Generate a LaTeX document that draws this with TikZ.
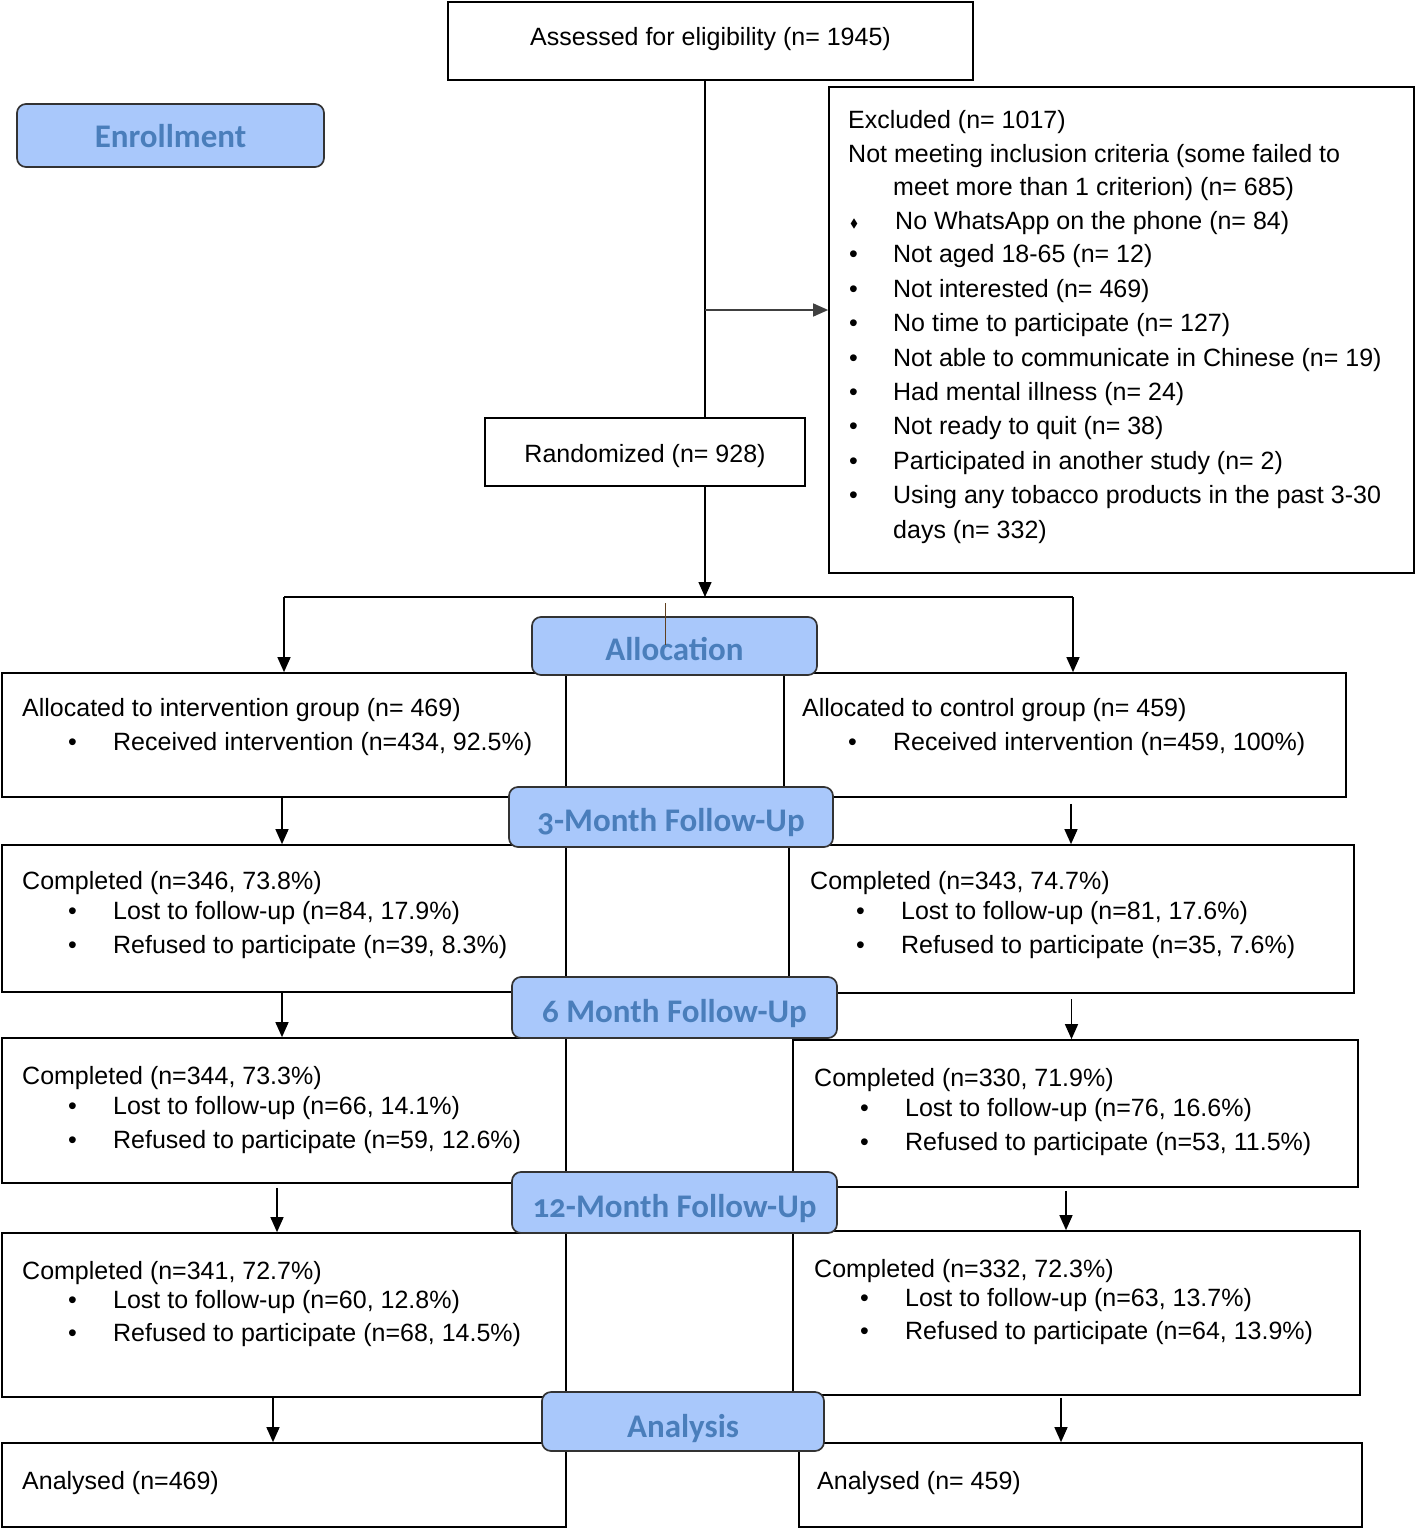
\documentclass[tikz,border=0pt]{standalone}
\usepackage{fontspec}
\usepackage{amssymb}
\setmainfont{Liberation Sans}
\newfontfamily\headfont[Numbers=OldStyle]{Carlito}
\usetikzlibrary{arrows.meta}

\definecolor{stagefill}{HTML}{A9C8FB}
\definecolor{stagetext}{HTML}{4A7EBB}

\newcommand{\itm}{\hspace*{46pt}\makebox[45pt][l]{\textbullet}}
\newcommand{\exi}{\hspace*{1pt}\makebox[44pt][l]{\textbullet}}
\newcommand{\exd}{\hspace*{2pt}\makebox[45pt][l]{\raisebox{2pt}{\fontsize{12}{12}\selectfont$\blacklozenge$}}}

\tikzset{
	box/.style={draw, line width=1.7pt, rectangle, inner sep=0pt, font=\fontsize{25}{30}\selectfont},
	stage/.style={draw=black!80, line width=1.7pt, rounded corners=9pt, fill=stagefill, text=stagetext, inner sep=0pt, text height=29pt, text depth=0pt, font=\headfont\bfseries\fontsize{33}{36}\selectfont},
	txt/.style={anchor=north west, align=left, inner sep=0pt, font=\fontsize{25}{#1}\selectfont},
	txt/.default=32,
	arr/.style={-{Triangle[length=15pt,width=13pt]}, line width=1.4pt}
}

\begin{document}
\begin{tikzpicture}[x=1pt, y=-1pt]
	\useasboundingbox (0,0) rectangle (1416,1530);

	\node (assess) at (710.5,41) [box, minimum width=525pt, minimum height=78pt, text height=18pt, text depth=8pt] {Assessed for eligibility (n= 1945)};
	\node (enroll) at (170.5,135.5) [stage, minimum width=307pt, minimum height=63pt, text height=25pt] {Enrollment};
	\node (excl) at (1121.5,330) [box, minimum width=585pt, minimum height=486pt] {};
		\node (excltxt) at (848,110) [txt=34.4] {Excluded (n= 1017)\\
			Not meeting inclusion criteria (some failed to\\[-2pt]
			\hspace*{45pt}meet more than 1 criterion) (n= 685)\\
			\exd No WhatsApp on the phone (n= 84)\\[-1pt]
			\exi Not aged 18-65 (n= 12)\\
			\exi Not interested (n= 469)\\
			\exi No time to participate (n= 127)\\
			\exi Not able to communicate in Chinese (n= 19)\\
			\exi Had mental illness (n= 24)\\
			\exi Not ready to quit (n= 38)\\
			\exi Participated in another study (n= 2)\\
			\exi Using any tobacco products in the past 3-30\\
			\hspace*{45pt}days (n= 332)};
	\node (rand) at (645,452) [box, minimum width=320pt, minimum height=68pt, text height=25pt, text depth=5pt] {Randomized (n= 928)};

	\coordinate (split) at (705,310);
	\coordinate (fork) at (705,597);
	\coordinate (forkL) at (284,597);
	\coordinate (forkR) at (1073,597);
	\draw[line width=1.4pt] (assess.south -| split) -- (rand.north -| split);
	\draw[arr, black!75] (split) -- (split -| excl.west);
	\draw[arr] (rand.south -| fork) -- (fork);
	\draw[line width=1.6pt] (forkL) -- (forkR);

	\node (intA) at (284,735) [box, minimum width=564pt, minimum height=124pt] {};
	\node (ctlA) at (1065,735) [box, minimum width=562pt, minimum height=124pt] {};
	\node (intB) at (284,918.5) [box, minimum width=564pt, minimum height=147pt] {};
	\node (ctlB) at (1071.5,919) [box, minimum width=565pt, minimum height=148pt] {};
	\node (intC) at (284,1110.5) [box, minimum width=564pt, minimum height=145pt] {};
	\node (ctlC) at (1075.5,1113.5) [box, minimum width=565pt, minimum height=147pt] {};
	\node (intD) at (284,1315) [box, minimum width=564pt, minimum height=164pt] {};
	\node (ctlD) at (1076.5,1313) [box, minimum width=567pt, minimum height=164pt] {};
	\node (intE) at (284,1485) [box, minimum width=564pt, minimum height=84pt] {};
	\node (ctlE) at (1080.5,1485) [box, minimum width=563pt, minimum height=84pt] {};

	\node (intAtxt) at (22,698) [txt=34] {Allocated to intervention group (n= 469)\\
		\itm Received intervention (n=434, 92.5\%)};
	\node (ctlAtxt) at (802,698) [txt=34] {Allocated to control group (n= 459)\\
		\itm Received intervention (n=459, 100\%)};
	\node (intBtxt) at (22,871) [txt] {Completed (n=346, 73.8\%)\\[-2pt]
		\itm Lost to follow-up (n=84, 17.9\%)\\[2pt]
		\itm Refused to participate (n=39, 8.3\%)};
	\node (ctlBtxt) at (810,871) [txt] {Completed (n=343, 74.7\%)\\[-2pt]
		\itm Lost to follow-up (n=81, 17.6\%)\\[2pt]
		\itm Refused to participate (n=35, 7.6\%)};
	\node (intCtxt) at (22,1066) [txt] {Completed (n=344, 73.3\%)\\[-2pt]
		\itm Lost to follow-up (n=66, 14.1\%)\\[2pt]
		\itm Refused to participate (n=59, 12.6\%)};
	\node (ctlCtxt) at (814,1068) [txt] {Completed (n=330, 71.9\%)\\[-2pt]
		\itm Lost to follow-up (n=76, 16.6\%)\\[2pt]
		\itm Refused to participate (n=53, 11.5\%)};
	\node (intDtxt) at (22,1261) [txt] {Completed (n=341, 72.7\%)\\[-3pt]
		\itm Lost to follow-up (n=60, 12.8\%)\\[1pt]
		\itm Refused to participate (n=68, 14.5\%)};
	\node (ctlDtxt) at (814,1259) [txt] {Completed (n=332, 72.3\%)\\[-3pt]
		\itm Lost to follow-up (n=63, 13.7\%)\\[1pt]
		\itm Refused to participate (n=64, 13.9\%)};
	\node (intEtxt) at (22,1471) [txt] {Analysed (n=469)};
	\node (ctlEtxt) at (817,1471) [txt] {Analysed (n= 459)};

	\draw[arr] (forkL) -- (forkL |- intA.north);
	\draw[arr] (forkR) -- (forkR |- ctlA.north);
	\draw[arr] ([xshift=-2pt]intA.south) -- ([xshift=-2pt]intA.south |- intB.north);
	\draw[arr] ([xshift=6pt,yshift=-6pt]ctlA.south) -- ([xshift=6pt]ctlA.south |- ctlB.north);
	\draw[arr] ([xshift=-2pt]intB.south) -- ([xshift=-2pt]intB.south |- intC.north);
	\draw[arr] ([yshift=-5pt]ctlB.south) -- (ctlB.south |- ctlC.north);
	\draw[arr] ([xshift=-7pt,yshift=-4pt]intC.south) -- ([xshift=-7pt]intC.south |- intD.north);
	\draw[arr] ([xshift=-9.5pt,yshift=-3pt]ctlC.south) -- ([xshift=-9.5pt]ctlC.south |- ctlD.north);
	\draw[arr] ([xshift=-11pt]intD.south) -- ([xshift=-11pt]intD.south |- intE.north);
	\draw[arr] ([xshift=-15.5pt,yshift=-2pt]ctlD.south) -- ([xshift=-15.5pt]ctlD.south |- ctlE.north);

	\node (alloc) at (674.5,646) [stage, minimum width=285pt, minimum height=58pt] {Allocation};
	\node (m3) at (671,817) [stage, minimum width=324pt, minimum height=60pt] {3-Month Follow-Up};
	\node (m6) at (674.5,1007.5) [stage, minimum width=325pt, minimum height=61pt] {6 Month Follow-Up};
	\node (m12) at (674.5,1202.5) [stage, minimum width=325pt, minimum height=61pt] {12-Month Follow-Up};
	\node (ana) at (683,1421.5) [stage, minimum width=282pt, minimum height=59pt, text height=31pt] {Analysis};

	\coordinate (tick) at (665,603);
	\draw[brown!50!black, line width=1pt] (tick) -- ++(0,42);
\end{tikzpicture}
\end{document}
